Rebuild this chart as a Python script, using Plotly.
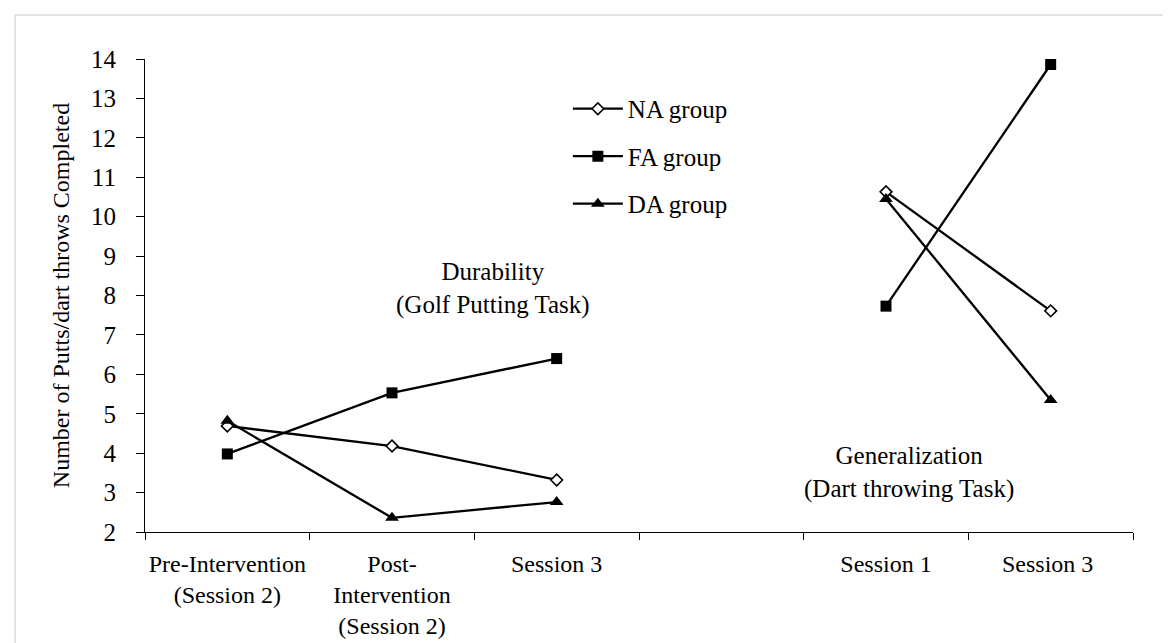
import plotly.graph_objects as go

# ---- data ----
categories = [
    "Pre-Intervention<br>(Session 2)",
    "Post-<br>Intervention<br>(Session 2)",
    "Session 3",
    " ",
    "Session 1",
    "Session 3 ",
]
na_group = [4.69, 4.18, 3.32, None, 10.63, 7.61]
fa_group = [3.98, 5.53, 6.40, None, 7.73, 13.86]
da_group = [4.82, 2.36, 2.76, None, 10.45, 5.35]

y_ticks = list(range(2, 15))

FONT = "Liberation Serif"

fig = go.Figure()

fig.add_trace(go.Scatter(
    x=categories, y=na_group, name="NA group", mode="lines+markers",
    connectgaps=False, legendgroup="na",
    line=dict(color="black", width=2.3),
    marker=dict(symbol="diamond", size=9, color="white",
                line=dict(color="black", width=1.6)),
))
fig.add_trace(go.Scatter(
    x=categories, y=fa_group, name="FA group", mode="lines+markers",
    connectgaps=False, legendgroup="fa",
    line=dict(color="black", width=2.3),
    marker=dict(symbol="square", size=11, color="black"),
))
fig.add_trace(go.Scatter(
    x=categories, y=da_group, name="DA group", mode="lines+markers",
    connectgaps=False, legendgroup="da",
    line=dict(color="black", width=2.3),
    marker=dict(symbol="triangle-up", size=12, color="black"),
))

fig.update_layout(
    width=1171, height=643,
    margin=dict(l=137, r=46, t=51, b=119),
    paper_bgcolor="white", plot_bgcolor="white",
    font=dict(family=FONT, size=24, color="black"),
    showlegend=True,
    legend=dict(
        x=0.428, y=0.943, xanchor="left", yanchor="top",
        font=dict(family=FONT, size=25, color="black"),
        itemwidth=50, tracegroupgap=12, bgcolor="rgba(0,0,0,0)",
    ),
    xaxis=dict(
        type="category", categoryorder="array", categoryarray=categories,
        range=[-0.5, 5.5], tickson="boundaries", tickangle=0,
        ticks="outside", ticklen=7, tickcolor="black", tickwidth=1,
        showline=True, linecolor="black", linewidth=1.2,
        showgrid=False, zeroline=False,
        tickfont=dict(family=FONT, size=24, color="black"),
        ticklabelstandoff=10,
    ),
    yaxis=dict(
        range=[2, 14], tickvals=y_ticks, ticks="outside", ticklen=8,
        tickcolor="black", tickwidth=1,
        showline=True, linecolor="black", linewidth=1.2,
        showgrid=False, zeroline=False,
        tickfont=dict(family=FONT, size=25, color="black"),
        ticklabelstandoff=15,
        title=dict(text="Number of Putts/dart throws Completed",
                   font=dict(family=FONT, size=24, color="black"),
                   standoff=14),
    ),
    annotations=[
        dict(text="Durability<br>(Golf Putting Task)", xref="paper", yref="y",
             x=(386 - 137) / 988, y=8.17, showarrow=False,
             font=dict(family=FONT, size=25, color="black"), align="center"),
        dict(text="Generalization<br>(Dart throwing Task)", xref="paper", yref="y",
             x=(1008 - 137) / 988, y=3.52, showarrow=False,
             font=dict(family=FONT, size=25, color="black"), align="center"),
    ],
    shapes=[
        dict(type="rect", xref="paper", yref="paper",
             x0=(7 - 137) / 988, x1=(1165 - 137) / 988,
             y0=(524 - 637) / 473, y1=(524 - 7) / 473,
             line=dict(color="#c8c8c8", width=1), layer="below"),
    ],
)

fig.write_html("out.html")
